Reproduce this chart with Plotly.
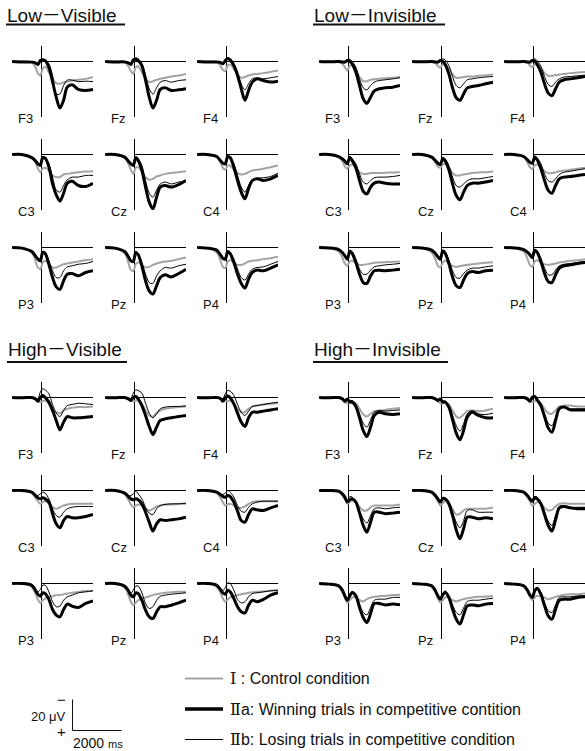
import plotly.graph_objects as go

W, H = 585, 751

# ---------------- data (µV, negative plotted up) ----------------
TIME_MS = [-1200, -800, -400, -250, -150, -50, 50, 150, 300, 450, 600, 750, 900, 1050, 1250, 1500, 1800, 2100]

GROUP_TITLES = ["Low－Visible", "Low－Invisible", "High－Visible", "High－Invisible"]
GROUP_CODES = ["LV", "LI", "HV", "HI"]
ELECTRODES = ["F3", "Fz", "F4", "C3", "Cz", "C4", "P3", "Pz", "P4"]
CONDITIONS = ["I", "IIa", "IIb"]
LEGEND_NUMERALS = ["Ⅰ", "Ⅱ", "Ⅱ"]
LEGEND_LABELS = [" : Control condition",
                 "a: Winning trials in competitive contition",
                 "b: Losing trials in competitive condition"]

# Low-Visible
LV_F3_I   = [0, 0, 0.4, 3.7, 7.5, 9, 4.7, 3.2, 6.9, 11, 14, 14.4, 13.5, 13, 12.3, 11.8, 11.2, 10]
LV_F3_IIa = [0, 0.3, 0.4, 0.9, 1.9, -0.6, -1, -0.6, 3.7, 13, 23, 30, 25, 16.5, 15, 18, 18.7, 18]
LV_F3_IIb = [0, 0.3, 0.4, 0.9, 1.5, -0.6, -1.7, -1, 1.5, 9, 21, 21, 15.5, 12, 12, 13, 12.7, 13]
LV_Fz_I   = [0, 0, 0.4, 3.2, 6.2, 8, 3.7, 3.2, 6.9, 11.2, 13.3, 12.7, 11.8, 11.2, 10.5, 9.7, 9, 8]
LV_Fz_IIa = [0, 0.3, 0.3, 0.9, 1.9, -1, -1.5, -0.6, 2.6, 12, 23, 30, 25, 18, 17, 18.7, 18.3, 17.6]
LV_Fz_IIb = [0, 0.3, 0.3, 0.9, 1.7, -1, -2.4, -1.7, 1.5, 9, 17.6, 21, 17, 13.3, 12.3, 13.3, 12.3, 11.8]
LV_F4_I   = [0, 0, 0.3, 2.8, 5.4, 6.2, 2.6, 1.9, 4.7, 8.4, 10.5, 10, 9, 8.4, 8, 7.5, 6.7, 5.8]
LV_F4_IIa = [0, 0.3, 0.3, 0.6, 1.5, -0.6, -1.9, -1, 2.6, 9, 17.6, 25, 18.7, 13.3, 11.2, 12.3, 13.3, 12.7]
LV_F4_IIb = [0, 0.3, 0.3, 0.6, 1.3, -0.8, -2.4, -1.5, 1.5, 6.9, 14.4, 18.3, 14.4, 11.2, 10.5, 11.2, 10.5, 9.7]
LV_C3_I   = [0, 0, 1.7, 5, 9, 11.4, 9, 8.6, 10.3, 13.5, 14.6, 14.6, 12.9, 12.5, 12, 11.4, 11, 10.8]
LV_C3_IIa = [0, 0, 2, 4, 6, 7, 2, 2.4, 8, 19, 26, 30, 25, 18.5, 17.2, 20, 20.6, 18.5]
LV_C3_IIb = [0, 0, 2, 4, 5.8, 6, 1.7, 2, 6, 14.6, 22.8, 24.3, 20, 16.3, 14.6, 14.6, 13.5, 13.5]
LV_Cz_I   = [0, 0, 2, 6, 9.9, 12.5, 8.6, 8.2, 10.8, 14.6, 16.3, 15.7, 14.2, 13.5, 12.5, 12, 11.4, 10.8]
LV_Cz_IIa = [0, 0, 1.7, 4.3, 6, 7.1, 2, 3.9, 10.3, 21, 30.7, 35, 27.5, 21, 20, 21, 19.4, 16.8]
LV_Cz_IIb = [0, 0, 1.7, 4.3, 5.8, 6.5, 2, 2.8, 7.1, 16.8, 25, 27.5, 23, 19, 17.8, 19, 17.8, 17.2]
LV_C4_I   = [0, 0, 1.7, 5, 8.6, 9.9, 7.1, 7.1, 9.9, 12, 12.9, 12.5, 11.4, 10.3, 9.9, 9.2, 8.2, 7.1]
LV_C4_IIa = [0, 0, 1.3, 3.9, 5.6, 6, 1.3, 2, 8.2, 16.8, 24.3, 28.6, 22, 16.8, 15.7, 16.8, 15.7, 13.5]
LV_C4_IIb = [0, 0, 1.3, 3.9, 5.4, 5.6, 1.3, 2, 6, 13.5, 21, 24.3, 20, 16.3, 15.3, 15, 14.2, 12]
LV_P3_I   = [0, 0.4, 3.2, 8.6, 12.9, 14, 9.7, 8.6, 10.8, 12.9, 12.9, 11.8, 10.8, 10.3, 9.7, 9, 8.2, 7.5]
LV_P3_IIa = [0, 0.4, 2.6, 5.4, 7.5, 8.6, 3.2, 3.9, 10.8, 19.4, 25.4, 27, 21.5, 17.2, 16.8, 18.3, 16.1, 15]
LV_P3_IIb = [0, 0.4, 2.6, 5.4, 7.3, 8, 2.6, 3.2, 8.6, 15, 19.4, 19.4, 15, 12.5, 11.8, 10.8, 10.3, 9]
LV_Pz_I   = [0, 0.4, 3.9, 9.7, 14.6, 15, 10.8, 9.7, 11.2, 12.9, 12.5, 11.2, 10.3, 9.7, 9, 8.6, 7.5, 6.5]
LV_Pz_IIa = [0, 0.4, 2.6, 6, 8.6, 9, 3.2, 4.7, 11.8, 21.5, 28, 30, 24.7, 19.4, 17.6, 19, 16.8, 14]
LV_Pz_IIb = [0, 0.4, 2.6, 6, 8.4, 8.6, 2.6, 3.9, 9.7, 17.2, 22.6, 23.2, 18.3, 15, 12.9, 13.3, 11.8, 10.8]
LV_P4_I   = [0, 0.4, 3.2, 8.2, 12.5, 13.3, 9, 8.2, 9.7, 11.2, 11.2, 10.3, 9, 8.6, 8.2, 7.5, 6.9, 6]
LV_P4_IIa = [0, 0.4, 1.7, 4.7, 6.9, 7.5, 2.6, 3.9, 9.7, 17.2, 23.2, 26.2, 20.4, 16.1, 14.6, 15, 13.3, 11.2]
LV_P4_IIb = [0, 0.4, 1.7, 4.7, 6.7, 7.1, 2.4, 3.4, 7.5, 14, 19.4, 21, 17.2, 14, 12.9, 12.5, 10.8, 9]

# Low-Invisible
LI_F3_I   = [0, 0, 0.4, 1.5, 3.7, 5.8, 2.8, 2.6, 5.8, 10, 12.7, 12.7, 11.8, 11.4, 11.2, 10.8, 10.5, 10]
LI_F3_IIa = [0, 0.2, 0, 0.3, 0.4, -0.6, 0, 1.5, 6.9, 15.5, 24, 27, 23, 19, 17.6, 17, 16.6, 15.5]
LI_F3_IIb = [0, 0.2, 0, 0.2, 0.2, -1, -1.5, 0, 3.7, 11.2, 17, 18.3, 15.5, 13.3, 12.3, 11.8, 11.2, 10.5]
LI_Fz_I   = [0, 0, 0.3, 1.1, 2.8, 4, 1.9, 1.9, 4.7, 8.4, 10.5, 10.5, 10, 9.7, 9.7, 9.2, 9, 8.4]
LI_Fz_IIa = [0, 0.2, 0, 0.3, 0.4, -0.6, -0.2, 1.9, 8, 17, 23.4, 25, 20.9, 17, 16.1, 15.5, 14.4, 13.3]
LI_Fz_IIb = [0, 0.2, 0, 0.2, 0.2, -1, -1.7, -1, 2.6, 9.7, 15.5, 17, 14.4, 11.8, 11.2, 10.5, 10, 9.7]
LI_F4_I   = [0, 0, 0.3, 0.7, 2.4, 3.7, 1.9, 1.9, 4, 7.5, 9.2, 9.2, 8.8, 8.4, 8, 7.5, 7.1, 6.7]
LI_F4_IIa = [0, 0.2, 0, 0.3, 0.4, -0.6, -0.2, 1.9, 6.9, 14.4, 20.4, 22, 17.6, 13.3, 11.8, 11.2, 10.5, 9.7]
LI_F4_IIb = [0, 0.2, 0, 0.2, 0.2, -1, -1.7, -0.6, 3.2, 9.7, 14.8, 16.1, 13.3, 11.2, 10, 9.7, 9.2, 8.8]
LI_C3_I   = [0, 0, 1.7, 4.3, 7.7, 9.2, 7.1, 6.5, 8.6, 11.4, 12.5, 12.5, 12, 12, 12, 11.8, 11.6, 11.4]
LI_C3_IIa = [0, 0, 1.3, 2.8, 4.3, 6, 2, 3.9, 8.6, 16.8, 23.7, 25.4, 21, 18.5, 17.8, 18.5, 19, 19]
LI_C3_IIb = [0, 0, 1.3, 2.8, 4.1, 5.4, 1.3, 2.8, 6, 12.5, 17.8, 19, 16.8, 15, 14.6, 14.6, 14.2, 13.5]
LI_Cz_I   = [0, 0, 2, 5.2, 7.7, 8.6, 6.5, 6, 8.6, 12, 13.5, 13.5, 12.9, 12.5, 12, 11.6, 11.4, 11]
LI_Cz_IIa = [0, 0, 1.7, 3.9, 5.6, 6.5, 2.8, 4.3, 9.9, 19, 26.5, 29.2, 24.3, 20, 18.5, 18.5, 17.8, 16.8]
LI_Cz_IIb = [0, 0, 1.7, 3.9, 5.4, 6, 1.7, 2.8, 7.1, 14.6, 20, 21, 19, 16.8, 15.7, 15.7, 15, 14.2]
LI_C4_I   = [0, 0, 1.7, 5, 8.2, 9.2, 7.1, 6.5, 8.2, 10.8, 12, 12, 11.4, 10.8, 10.3, 9.9, 9.2, 8.6]
LI_C4_IIa = [0, 0, 1.3, 3.4, 5, 5.6, 1.7, 3.4, 9.2, 16.8, 23.2, 25, 20, 15.7, 14.6, 14.2, 13.5, 12.9]
LI_C4_IIb = [0, 0, 1.3, 3.4, 4.8, 5.2, 0.9, 2.2, 6, 12.5, 16.8, 17.8, 15.7, 12.9, 11.4, 10.8, 9.9, 9.2]
LI_P3_I   = [0, 0.3, 2.6, 6.5, 10.3, 11.8, 9, 8.6, 9.9, 11.2, 11.2, 10.8, 10.3, 9.9, 9.7, 9.5, 9.2, 9]
LI_P3_IIa = [0, 0.3, 1.3, 3.2, 5.4, 7.5, 2.6, 3.9, 9.7, 17.2, 22.6, 23.2, 18.3, 15, 14.6, 15, 14.6, 14]
LI_P3_IIb = [0, 0.3, 1.3, 3.2, 5.2, 7, 1.7, 2.6, 7.5, 14, 17.2, 17.2, 14.6, 12.5, 11.8, 11.2, 10.8, 10.3]
LI_Pz_I   = [0, 0.3, 3.2, 7.5, 11.8, 12.9, 9.7, 8.6, 10.3, 11.8, 12.5, 12, 11.6, 11.2, 10.8, 10.3, 9.9, 9.5]
LI_Pz_IIa = [0, 0.3, 1.7, 3.9, 6, 7.5, 2.2, 3.9, 10.3, 19, 24.7, 25.8, 21, 16.8, 15.5, 16.1, 15, 14.6]
LI_Pz_IIb = [0, 0.3, 1.7, 3.9, 5.8, 7, 1.7, 2.6, 8.2, 15, 19.4, 19.8, 16.8, 14.6, 13.3, 13.3, 12.5, 11.8]
LI_P4_I   = [0, 0.3, 2.6, 7.1, 11.2, 12.5, 9, 8.2, 9.7, 10.8, 11.2, 10.8, 10.3, 9.7, 9.2, 8.6, 8.2, 7.5]
LI_P4_IIa = [0, 0.3, 1.3, 3, 4.7, 6.5, 1.7, 3.2, 9, 16.8, 22, 22.6, 17.6, 13.3, 11.8, 11.2, 10.3, 9.7]
LI_P4_IIb = [0, 0.3, 1.3, 3, 4.5, 6, 1.1, 2.2, 6.9, 13.3, 17.6, 17.6, 14.6, 11.8, 10.8, 10.3, 9.7, 9]

# High-Visible
HV_F3_I   = [0, 0, 0, 0.9, 2.4, 3, 2.4, 1.9, 3.7, 7.3, 9.5, 10.1, 8.4, 7.3, 6.7, 6.2, 6.2, 5.8]
HV_F3_IIa = [0, 0.2, 0, 0.9, 2.4, 0, -1.3, 0, 3, 8.4, 14.8, 20.9, 15.9, 12.3, 13.1, 13.1, 12.7, 12.3]
HV_F3_IIb = [0, 0.2, 0, 0.9, 0.9, -3.4, -5.6, -4.9, -2.4, 4.5, 10.1, 12.3, 8.4, 5.2, 4.5, 3.7, 4.1, 4.5]
HV_Fz_I   = [0, 0, 0, 0.4, 1.5, 2.4, 1.9, 2.4, 4.1, 8.4, 11.6, 12.3, 10.1, 8.4, 7.3, 6.7, 6.2, 5.8]
HV_Fz_IIa = [0, 0.2, 0, 0.9, 1.9, 0, -0.6, 0.9, 5.2, 11.6, 18.7, 23.9, 19.1, 14.8, 13.8, 13.1, 12.3, 11.6]
HV_Fz_IIb = [0, 0.2, 0, 0.9, 0.9, -2.8, -4.9, -4.5, -2.8, 3.7, 10.1, 13.1, 10.5, 7.3, 6.2, 5.8, 5.8, 5.4]
HV_F4_I   = [0, 0, 0, 0.6, 1.5, 2.4, 2.4, 1.9, 3.7, 7.3, 9.5, 9.5, 7.3, 5.8, 5.2, 4.5, 4.1, 3.7]
HV_F4_IIa = [0, 0.2, 0, 0.6, 2.4, 0, -1, 0.2, 4.1, 10.1, 15.9, 18.7, 13.1, 9.5, 9.5, 8.8, 8, 7.3]
HV_F4_IIb = [0, 0.2, 0, 0.6, 0.9, -2.4, -4.5, -4.1, -1.3, 4.5, 9.5, 11.6, 8.8, 5.8, 5.2, 4.5, 3.7, 3]
HV_C3_I   = [0, 0, 1.7, 4.7, 6.9, 8.6, 7.5, 6.9, 8.2, 10.8, 11.8, 10.8, 9.7, 9, 8.6, 8.6, 8.6, 8.6]
HV_C3_IIa = [0, 0, 1.1, 3.2, 4.7, 5.4, 4.7, 5.4, 7.5, 15, 21.5, 24, 19.4, 16.8, 17.6, 17.6, 16.8, 15.5]
HV_C3_IIb = [0, 0, 1.1, 3, 3.2, 2.2, 1.1, 1.7, 5.4, 11.8, 16.1, 17.2, 14, 11.8, 10.8, 10.3, 10.3, 10.3]
HV_Cz_I   = [0, 0, 2.2, 6, 9, 10.8, 9.7, 9, 9.7, 11.8, 12.9, 11.8, 10.3, 9.7, 9, 9, 8.6, 8.6]
HV_Cz_IIa = [0, 0, 1.7, 3.9, 5.4, 6, 5.4, 6, 8.6, 14, 20.4, 26.2, 21.5, 18.9, 19.4, 18.9, 18.3, 17.2]
HV_Cz_IIb = [0, 0, 1.7, 3.5, 3.2, 2.2, 0.4, 2.2, 5.4, 10.8, 14.6, 15.5, 11.8, 9.7, 9, 8.6, 8.6, 8.2]
HV_C4_I   = [0, 0, 1.7, 4.7, 7.5, 9.7, 9, 8.6, 9.7, 11.2, 11.2, 10.3, 8.6, 7.5, 6.9, 6.9, 6.9, 6.9]
HV_C4_IIa = [0, 0, 1.1, 2.6, 3.9, 4.3, 3.2, 3.9, 7.5, 13.3, 19.4, 20.4, 15.5, 11.8, 12.5, 12.9, 11.2, 9.7]
HV_C4_IIb = [0, 0, 1.1, 2.4, 2.6, 1.7, 0, 1.1, 4.3, 9.7, 13.3, 14, 10.8, 8.6, 7.5, 6.9, 6.9, 6.9]
HV_P3_I   = [0, 0, 2.2, 6.5, 10.3, 12.5, 10.8, 9.7, 8.6, 8.2, 7.5, 7.5, 6.9, 6.5, 6, 5.4, 4.9, 4.7]
HV_P3_IIa = [0, 0, 1.1, 4.3, 6.9, 8.2, 6, 6.5, 10.3, 16.8, 20.4, 21.5, 16.8, 13.3, 14.6, 15.5, 12.9, 11.2]
HV_P3_IIb = [0, 0, 1.1, 4.3, 5.4, 3.9, 1.1, 1.1, 5.4, 11.8, 15, 14.6, 10.8, 8.6, 7.5, 6, 5.4, 4.7]
HV_Pz_I   = [0, 0, 2.6, 7.5, 11.8, 14, 12.5, 10.8, 9.7, 9, 8.2, 7.5, 6.9, 6.5, 6, 5.6, 5.4, 5.4]
HV_Pz_IIa = [0, 0, 1.7, 4.7, 7.5, 8.6, 6, 6.5, 10.8, 17.2, 21.5, 22.6, 18.3, 15, 15, 14, 12.5, 10.8]
HV_Pz_IIb = [0, 0, 1.7, 4.7, 6.5, 4.3, 1.7, 1.7, 6, 12.9, 16.1, 15, 10.8, 8.2, 7.5, 6.9, 6.5, 6]
HV_P4_I   = [0, 0, 2.2, 6, 9.7, 11.8, 10.3, 9, 8.2, 7.5, 6.9, 6.5, 6, 5.6, 5.4, 5.2, 4.7, 4.3]
HV_P4_IIa = [0, 0, 1.1, 3.9, 6, 6.9, 4.3, 5.4, 9.7, 15, 18.3, 18.9, 14, 10.8, 11.8, 10.3, 7.5, 6]
HV_P4_IIb = [0, 0, 1.1, 3.9, 4.5, 2.6, -0.4, 0, 4.3, 10.3, 12.5, 11.8, 8.6, 6.5, 6, 5.4, 4.7, 4.3]

# High-Invisible
HI_F3_I   = [0, 0, 0, 0.9, 3, 3.7, 3, 2.4, 3.7, 7.3, 11, 12.3, 10.5, 8.8, 8.4, 8, 7.3, 6.7]
HI_F3_IIa = [0, 0.2, 0, 0.9, 2.4, 0.9, 3, 3, 5.8, 13.1, 21.3, 25.2, 19.1, 11.6, 9.5, 10.5, 11, 10.5]
HI_F3_IIb = [0, 0.2, 0, 0.9, 2.2, 0.9, 1.9, 1.9, 4.5, 10.5, 16.6, 19.1, 14.4, 9.5, 8.4, 8.8, 8.4, 8]
HI_Fz_I   = [0, 0, 0, 0.9, 2.4, 3.7, 3.7, 3, 4.5, 8.4, 12.3, 13.1, 11, 8.8, 8.4, 8.8, 8.4, 7.3]
HI_Fz_IIa = [0, 0.2, 0, 0.9, 1.9, 0.9, 3, 3, 6.2, 14.4, 23, 27.3, 21.3, 12.7, 9.5, 11.6, 13.1, 13.1]
HI_Fz_IIb = [0, 0.2, 0, 0.9, 1.7, 0.6, 2.2, 2.2, 5.2, 11.6, 18.1, 21.7, 17, 10.5, 8.4, 10.5, 11, 10.1]
HI_F4_I   = [0, 0, 0, 0.9, 2.4, 3, 2.4, 2.4, 3.7, 7.3, 10.1, 10.5, 8.4, 5.8, 5.2, 5.2, 5.8, 5.8]
HI_F4_IIa = [0, 0.2, 0, 0.9, 2.4, 0, -0.6, 1.5, 5.2, 12.3, 19.6, 22.4, 14.8, 7.3, 6.2, 8, 8, 8]
HI_F4_IIb = [0, 0.2, 0, 0.9, 2.2, -0.4, -1.3, 0.9, 4.5, 10.5, 16.6, 18.1, 12.7, 6.7, 5.8, 7.3, 7.3, 7.3]
HI_C3_I   = [0, 0, 1.1, 3.2, 5.4, 8.6, 7.5, 6.5, 7.5, 10.8, 12.9, 12.9, 10.8, 9.7, 9.7, 9.7, 9.7, 9]
HI_C3_IIa = [0, 0, 0.4, 2.2, 4.3, 7.5, 6, 5.4, 7.5, 14.6, 22.6, 26.9, 20.4, 14, 14, 15, 14.6, 14]
HI_C3_IIb = [0, 0, 0.4, 2.2, 4.1, 6.5, 3.9, 4.3, 6.9, 12.9, 18.3, 21, 16.1, 11.8, 11.2, 11.8, 11.2, 10.8]
HI_Cz_I   = [0, 0, 1.7, 4.3, 6.9, 9.7, 8.2, 6.9, 8.2, 11.8, 15.5, 15, 12.9, 11.8, 11.8, 11.8, 11.8, 11.2]
HI_Cz_IIa = [0, 0, 1.1, 3.2, 5.4, 7.5, 5.4, 5.4, 8.6, 16.1, 25.4, 31.2, 24.7, 17.2, 17.2, 18.3, 17.6, 18.3]
HI_Cz_IIb = [0, 0, 1.1, 3.2, 5.2, 6.9, 4.3, 4.7, 7.5, 14, 20.4, 24.1, 19.4, 12.9, 12.5, 14, 14, 14]
HI_C4_I   = [0, 0, 1.7, 4.3, 6.9, 9.7, 8.6, 7.5, 8.2, 11.2, 12.9, 12.5, 10.3, 8.6, 8.2, 8.6, 8.6, 8.6]
HI_C4_IIa = [0, 0, 1.1, 3.2, 5.4, 6.9, 4.7, 5.4, 8.6, 15.5, 22.6, 26.2, 18.9, 11.2, 10.3, 11.2, 11.8, 11.8]
HI_C4_IIb = [0, 0, 1.1, 3.2, 5.2, 6.5, 3.9, 4.3, 7.5, 14, 19.8, 22.6, 16.1, 10.3, 9.7, 10.8, 10.8, 10.8]
HI_P3_I   = [0, 0.4, 2.2, 5.8, 9, 12.3, 10.8, 9, 9, 10.8, 11.6, 10.1, 9, 8.6, 8.2, 8, 7.5, 7.3]
HI_P3_IIa = [0, 0.4, 1.5, 4.3, 8, 10.8, 8, 5.8, 8, 15.5, 21.9, 25.2, 19.4, 12.9, 12.9, 13.8, 13.3, 13.8]
HI_P3_IIb = [0, 0.4, 1.5, 4.3, 7.8, 10.1, 6.9, 5.2, 7.3, 13.3, 18.7, 20.2, 15.5, 10.8, 10.1, 10.1, 9, 9]
HI_Pz_I   = [0, 0.4, 2.2, 5.8, 9.5, 12.3, 10.8, 9, 9, 10.8, 11.6, 10.8, 10.1, 9.5, 9, 8.6, 8.4, 8]
HI_Pz_IIa = [0, 0.4, 1.5, 4.7, 8, 10.1, 7.3, 5.8, 9, 16.6, 23, 26.2, 20.2, 14.4, 13.8, 14.4, 13.3, 12.9]
HI_Pz_IIb = [0, 0.4, 1.5, 4.7, 7.8, 9.5, 6.5, 4.7, 8, 13.8, 18.7, 20.2, 15.9, 11.6, 10.8, 10.8, 10.1, 9.5]
HI_P4_I   = [0, 0.4, 2.2, 5.2, 8.6, 10.8, 9, 8, 8, 9, 10.1, 9.5, 8.6, 8, 7.3, 6.9, 6.9, 6.5]
HI_P4_IIa = [0, 0.4, 1.5, 4.3, 7.3, 9, 4.7, 3, 6.9, 14.4, 20.9, 23, 16.6, 10.8, 10.1, 10.1, 9, 8.6]
HI_P4_IIb = [0, 0.4, 1.5, 4.3, 7.1, 8.6, 3.7, 2.6, 5.8, 12.3, 17.6, 18.7, 13.8, 9, 8.6, 8.6, 8, 8]

SCALE_UV = 20
SCALE_MS = 2000

# ---------------- layout geometry (pixels) ----------------
FONT = "Liberation Sans, Arial, Noto Sans CJK JP, sans-serif"
NUM_FONT = "DejaVu Serif, Noto Serif CJK JP, Noto Sans CJK JP, serif"
T_MIN, T_MAX = -1200, 2100
V_MIN, V_MAX = -10, 36          # µV, negative up
PRE_PX, POST_PX = 29.4, 51.5    # px left/right of the stimulus line
UP_PX, DOWN_PX = 15.5, 55.8     # px above/below baseline
COL_X = [[41.5, 134.5, 226.5], [348.5, 441.5, 533.5]]
ROW_Y = [[61.5, 154.5, 247.5], [397.5, 490.5, 583.5]]
TITLE_POS = [(6, 15, 125), (313, 15, 445), (7, 349, 127), (313, 349, 448)]
UNDERLINE_Y = [24.5, 24.5, 362, 362]

COLORS = {"I": "#a3a3a3", "IIa": "#000000", "IIb": "#000000"}
WIDTHS = {"I": 2.0, "IIa": 3.0, "IIb": 1.0}


def px(x):
    return x / W


def py(y):
    return 1 - y / H


fig = go.Figure()
layout = {}
shapes = []
annotations = []
idx = 0
for g, code in enumerate(GROUP_CODES):
    gx, gy = g % 2, g // 2
    for e, el in enumerate(ELECTRODES):
        r, c = divmod(e, 3)
        idx += 1
        s = "" if idx == 1 else str(idx)
        v = COL_X[gx][c]
        b = ROW_Y[gy][r]
        layout["xaxis" + s] = dict(
            domain=[px(v - PRE_PX), min(1, px(v + POST_PX))], range=[T_MIN, T_MAX],
            anchor="y" + s, showgrid=False, showticklabels=False, ticks="",
            showline=False, zeroline=True, zerolinecolor="#000000", zerolinewidth=1,
            fixedrange=True)
        layout["yaxis" + s] = dict(
            domain=[py(b + DOWN_PX), py(b - UP_PX)], range=[V_MAX, V_MIN],
            anchor="x" + s, showgrid=False, showticklabels=False, ticks="",
            showline=False, zeroline=False, fixedrange=True)
        for cond in ["I", "IIa", "IIb"]:
            vals = globals()[f"{code}_{el}_{cond}"]
            fig.add_trace(go.Scatter(
                x=TIME_MS, y=vals, xaxis="x" + s, yaxis="y" + s, mode="lines",
                line=dict(color=COLORS[cond], width=WIDTHS[cond], shape="spline", smoothing=0.9),
                hoverinfo="skip", showlegend=False))
        shapes.append(dict(type="line", xref="x" + s, yref="y" + s, x0=0, x1=T_MAX,
                           y0=0, y1=0, line=dict(color="#000000", width=1), layer="below"))
        annotations.append(dict(xref="paper", yref="paper", x=px(v - 25.5), y=py(b + 57),
                                text=el, showarrow=False, xanchor="left", yanchor="middle",
                                font=dict(family=FONT, size=13, color="#111111")))

# group titles with underline
for g, title in enumerate(GROUP_TITLES):
    x0, yc, x1 = TITLE_POS[g]
    annotations.append(dict(xref="paper", yref="paper", x=px(x0 - 1), y=py(yc), text=title,
                            showarrow=False, xanchor="left", yanchor="middle",
                            font=dict(family=FONT, size=19, color="#111111")))
    shapes.append(dict(type="line", xref="paper", yref="paper", x0=px(x0), x1=px(x1),
                       y0=py(UNDERLINE_Y[g]), y1=py(UNDERLINE_Y[g]),
                       line=dict(color="#111111", width=2.2)))

# legend
LEG_Y = [678.5, 709, 739.5]
for k, cond in enumerate(CONDITIONS):
    shapes.append(dict(type="line", xref="paper", yref="paper", x0=px(185), x1=px(223),
                       y0=py(LEG_Y[k]), y1=py(LEG_Y[k]),
                       line=dict(color=COLORS[cond], width=WIDTHS[cond] + (0.3 if cond == "IIa" else 0))))
    label = (f"<span style='font-family:{NUM_FONT}'>{LEGEND_NUMERALS[k]}</span>"
             f"{LEGEND_LABELS[k]}")
    annotations.append(dict(xref="paper", yref="paper", x=px(228), y=py(LEG_Y[k]),
                            text=label, showarrow=False, xanchor="left", yanchor="middle",
                            font=dict(family=FONT, size=16, color="#111111")))

# scale bar (sizes taken from the panel scales)
ms_per_px = (T_MAX - T_MIN) / (PRE_PX + POST_PX)
uv_per_px = (V_MAX - V_MIN) / (UP_PX + DOWN_PX)
sb_x, sb_y = 72.5, 730.5
sb_w = SCALE_MS / ms_per_px
sb_h = SCALE_UV / uv_per_px
shapes.append(dict(type="line", xref="paper", yref="paper", x0=px(sb_x), x1=px(sb_x),
                   y0=py(sb_y), y1=py(sb_y - sb_h), line=dict(color="#111111", width=1)))
shapes.append(dict(type="line", xref="paper", yref="paper", x0=px(sb_x), x1=px(sb_x + sb_w),
                   y0=py(sb_y), y1=py(sb_y), line=dict(color="#111111", width=1)))
annotations += [
    dict(xref="paper", yref="paper", x=px(68), y=py(716), text=f"{SCALE_UV} μV",
         showarrow=False, xanchor="right", yanchor="middle",
         font=dict(family=FONT, size=13, color="#111111")),
    dict(xref="paper", yref="paper", x=px(61), y=py(699), text="−",
         showarrow=False, xanchor="center", yanchor="middle",
         font=dict(family=FONT, size=15, color="#111111")),
    dict(xref="paper", yref="paper", x=px(61), y=py(731), text="+",
         showarrow=False, xanchor="center", yanchor="middle",
         font=dict(family=FONT, size=15, color="#111111")),
    dict(xref="paper", yref="paper", x=px(71), y=py(743),
         text=f"{SCALE_MS} <span style='font-size:11px'>ms</span>",
         showarrow=False, xanchor="left", yanchor="middle",
         font=dict(family=FONT, size=14, color="#111111")),
]

fig.update_layout(
    width=W, height=H, margin=dict(l=0, r=0, t=0, b=0),
    paper_bgcolor="white", plot_bgcolor="rgba(0,0,0,0)",
    showlegend=False, shapes=shapes, annotations=annotations, **layout)

fig.write_html("out.html", config={"displayModeBar": False},
               post_script="document.body.style.margin='0';document.body.style.overflow='hidden';")
